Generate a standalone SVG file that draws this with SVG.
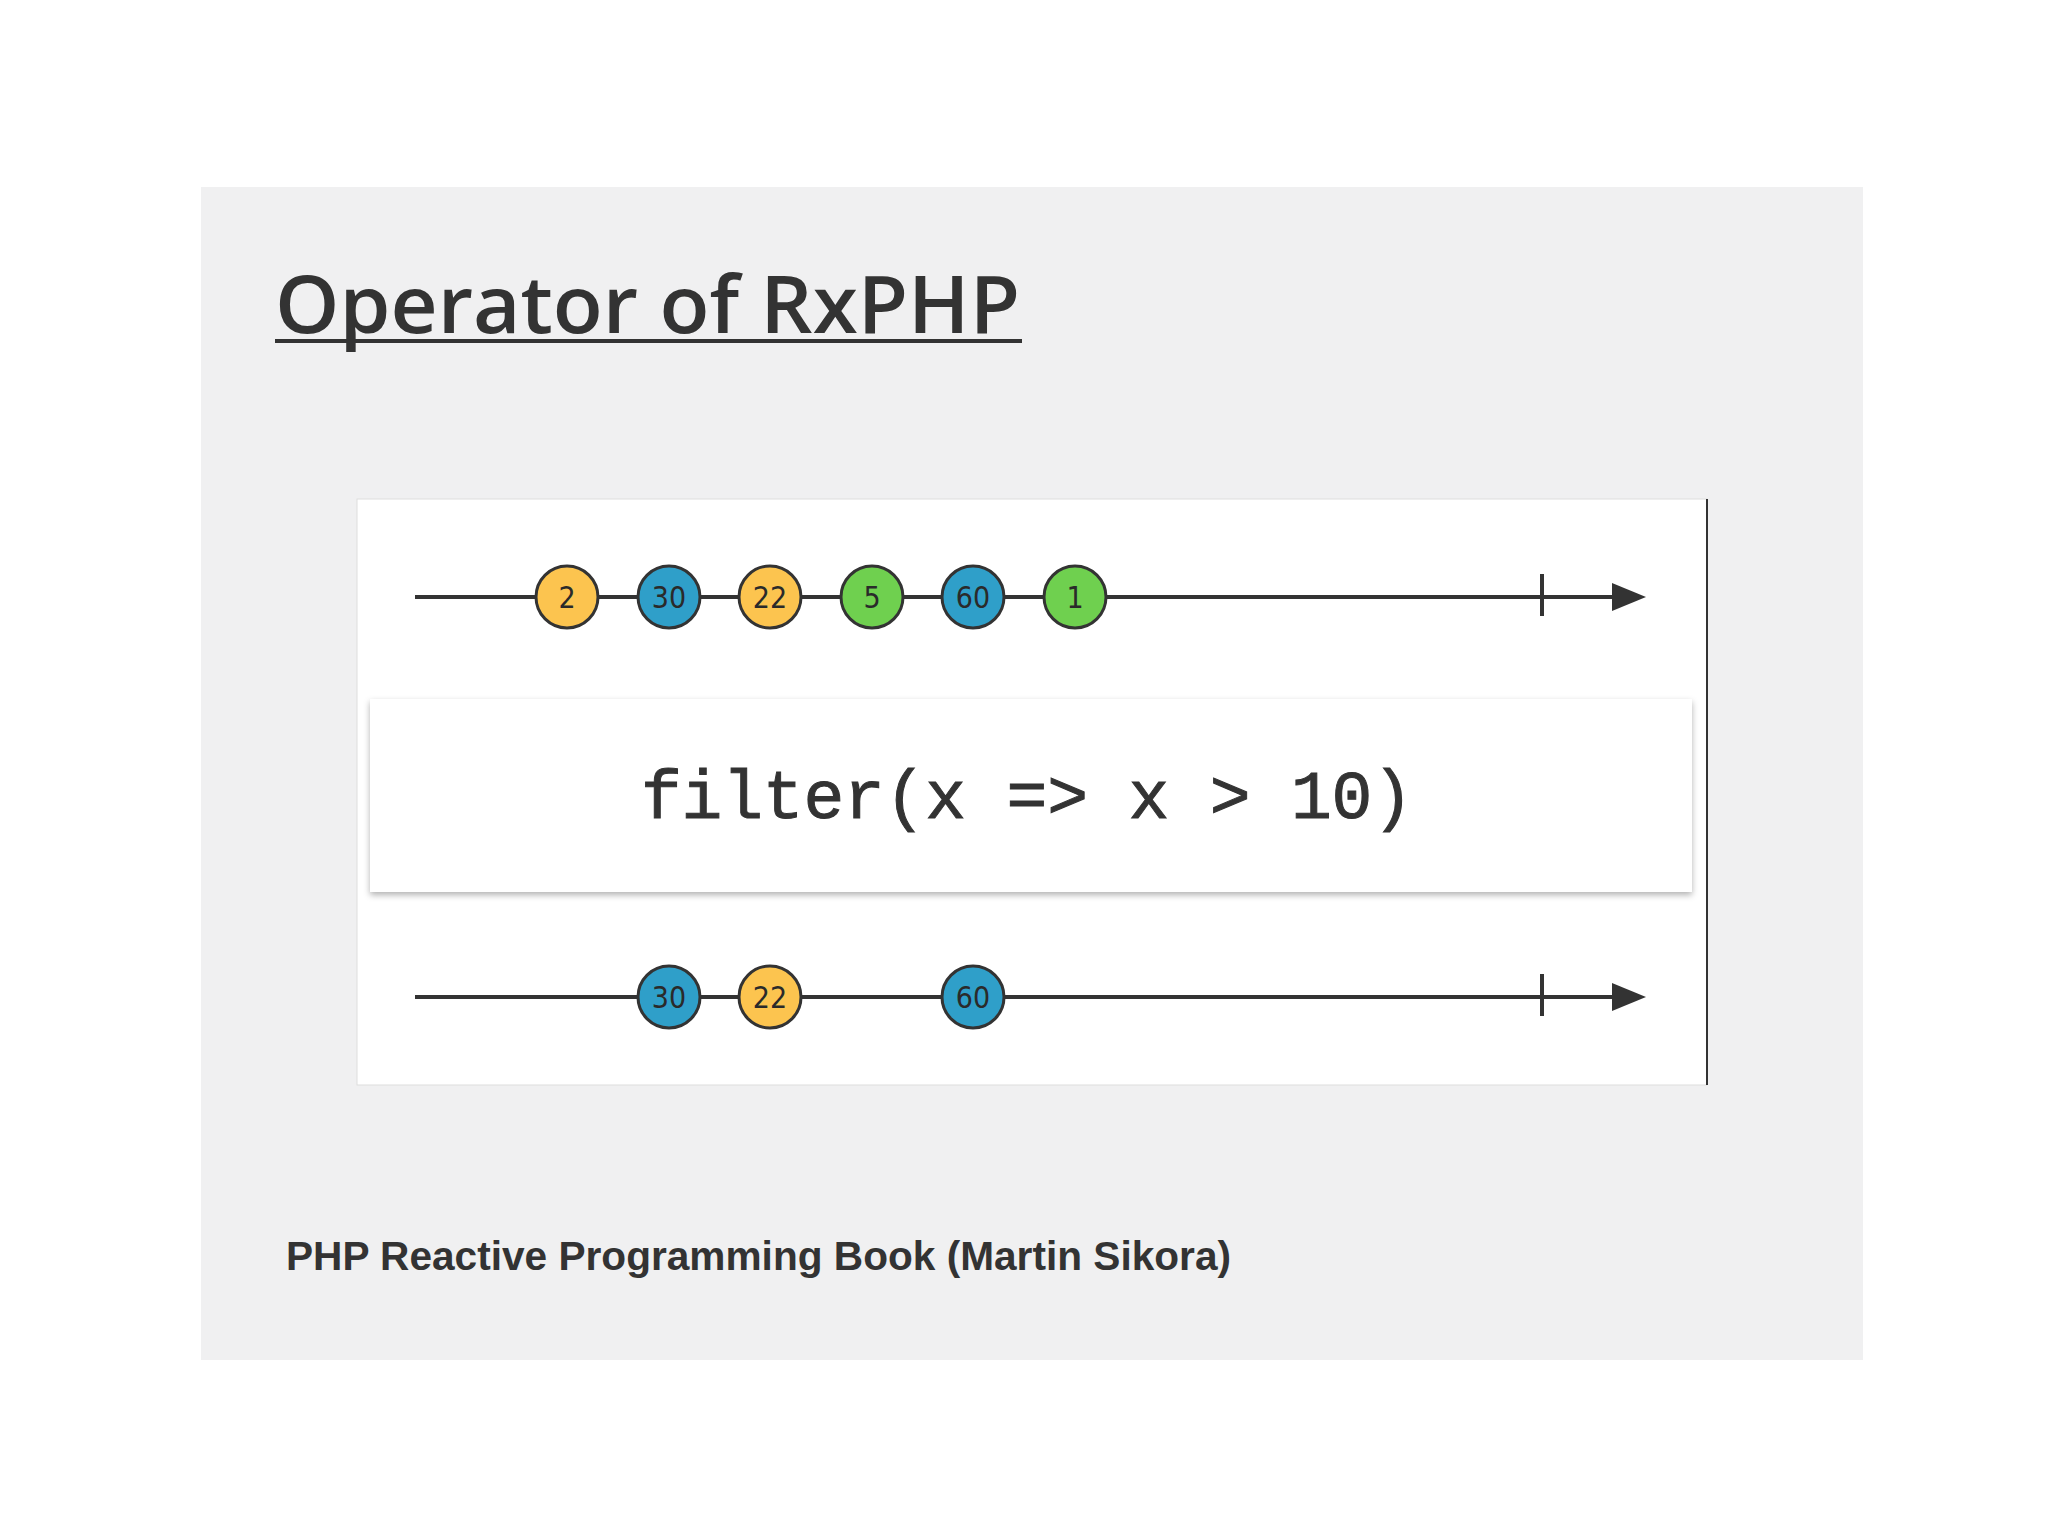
<svg xmlns="http://www.w3.org/2000/svg" width="2048" height="1536" viewBox="0 0 2048 1536">
<style>
.ln{stroke:#333;stroke-width:4;fill:none}
.c{stroke:#333;stroke-width:3}
.y{fill:#fcc44f}.b{fill:#2f9fc9}.g{fill:#6fd04f}
.n{font-family:"DejaVu Sans Condensed","DejaVu Sans",sans-serif;font-size:30px;fill:#2a2a2a;text-anchor:middle}
</style>
<defs>
<filter id="sh" x="-5%" y="-10%" width="110%" height="130%"><feDropShadow dx="0" dy="3" stdDeviation="3" flood-color="#000" flood-opacity="0.3"/></filter>
</defs>
<rect width="2048" height="1536" fill="#fff"/>
<rect x="201" y="187" width="1662" height="1173" fill="#f0f0f1"/>
<text x="275" y="333" font-family="'Open Sans','Noto Sans',sans-serif" font-weight="600" font-size="80" fill="#333" textLength="745" lengthAdjust="spacingAndGlyphs">Operator of RxPHP</text>
<rect x="275" y="339" width="747" height="4" fill="#333"/>
<rect x="357" y="499" width="1350" height="586" fill="#fff" stroke="#ddd" stroke-width="1"/>
<line x1="1707" y1="499" x2="1707" y2="1085" stroke="#333" stroke-width="2"/>
<g id="connectors">
<line class="ln" x1="415" y1="597" x2="1616" y2="597"/>
<path d="M1612,583 L1646,597 L1612,611Z" fill="#333"/>
<line class="ln" x1="1542" y1="574" x2="1542" y2="616"/>
<line class="ln" x1="415" y1="997" x2="1616" y2="997"/>
<path d="M1612,983 L1646,997 L1612,1011Z" fill="#333"/>
<line class="ln" x1="1542" y1="974" x2="1542" y2="1016"/>
</g>
<g id="filter"><rect x="370" y="699" width="1322" height="193" fill="#fff" filter="url(#sh)"/>
<text x="1027" y="818" font-family="'Liberation Mono','Courier New',monospace" font-size="68" fill="#333" text-anchor="middle" textLength="772" stroke="#333" stroke-width="1">filter(x =&gt; x &gt; 10)</text></g>
<g id="t1"><circle class="c y" cx="567" cy="597" r="31"/><text class="n" x="567" y="608">2</text></g>
<g id="t2"><circle class="c b" cx="669" cy="597" r="31"/><text class="n" x="669" y="608">30</text></g>
<g id="t3"><circle class="c y" cx="770" cy="597" r="31"/><text class="n" x="770" y="608">22</text></g>
<g id="t4"><circle class="c g" cx="872" cy="597" r="31"/><text class="n" x="872" y="608">5</text></g>
<g id="t5"><circle class="c b" cx="973" cy="597" r="31"/><text class="n" x="973" y="608">60</text></g>
<g id="t6"><circle class="c g" cx="1075" cy="597" r="31"/><text class="n" x="1075" y="608">1</text></g>
<g id="b1"><circle class="c b" cx="669" cy="997" r="31"/><text class="n" x="669" y="1008">30</text></g>
<g id="b2"><circle class="c y" cx="770" cy="997" r="31"/><text class="n" x="770" y="1008">22</text></g>
<g id="b3"><circle class="c b" cx="973" cy="997" r="31"/><text class="n" x="973" y="1008">60</text></g>
<text x="286" y="1270" font-family="'Liberation Sans',Arial,sans-serif" font-size="40" font-weight="bold" fill="#333" textLength="945" lengthAdjust="spacingAndGlyphs">PHP Reactive Programming Book (Martin Sikora)</text>
</svg>
